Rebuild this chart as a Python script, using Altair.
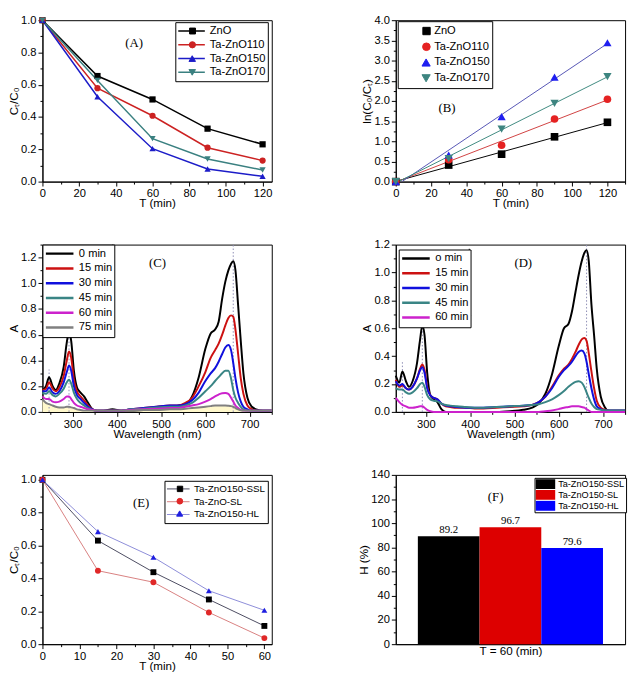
import altair as alt
import pandas as pd

SANS = "Liberation Sans"
SERIF = "Liberation Serif"

# ---------------- (A) ----------------
A_TIME = [0, 30, 60, 90, 120]
A_SERIES = ["ZnO", "Ta-ZnO110", "Ta-ZnO150", "Ta-ZnO170"]
A_ZNO = [1.0, 0.654, 0.509, 0.328, 0.231]
A_110 = [1.0, 0.579, 0.408, 0.210, 0.130]
A_150 = [1.0, 0.526, 0.204, 0.078, 0.033]
A_170 = [1.0, 0.627, 0.266, 0.140, 0.072]
A_COLORS = ["#000000", "#CC2222", "#1C1CC8", "#3A8080"]
A_SHAPES = ["square", "circle", "triangle-up", "triangle-down"]

# ---------------- (B) ----------------
B_TIME = [0, 30, 60, 90, 120]
B_ZNO = [0.0, 0.41, 0.68, 1.11, 1.47]
B_110 = [0.0, 0.54, 0.90, 1.55, 2.04]
B_150 = [0.0, 0.66, 1.61, 2.59, 3.44]
B_170 = [0.0, 0.57, 1.30, 1.94, 2.60]
B_POINT_COLORS = ["#000000", "#E52222", "#1E1EF0", "#3D8580"]
B_LINE_COLORS = ["#000000", "#D04040", "#5555B5", "#3E8A80"]

# ---------------- (C) & (D) spectra ----------------
WL = [232, 240, 247, 255, 262, 270, 280, 287, 292, 297,
      303, 310, 318, 326, 335, 345, 355, 370, 390, 410,
      430, 460, 490, 520, 540, 555, 570, 585, 600, 612,
      622, 630, 638, 645, 652, 658, 663, 668, 674, 680,
      686, 695, 705, 715, 730, 750]
C_SERIES = ["0 min", "15 min", "30 min", "45 min", "60 min", "75 min"]
C_0 = [0.17, 0.20, 0.27, 0.20, 0.17, 0.22, 0.35, 0.54, 0.62, 0.55,
       0.32, 0.19, 0.15, 0.12, 0.07, 0.02, 0.01, 0.01, 0.02, 0.01,
       0.01, 0.015, 0.02, 0.03, 0.05, 0.06, 0.12, 0.27, 0.49, 0.61,
       0.64, 0.70, 0.88, 1.01, 1.10, 1.15, 1.17, 1.10, 0.83, 0.55,
       0.30, 0.11, 0.04, 0.02, 0.01, 0.01]
C_15 = [0.17, 0.18, 0.23, 0.18, 0.16, 0.19, 0.28, 0.40, 0.47, 0.42,
        0.25, 0.16, 0.12, 0.09, 0.05, 0.02, 0.01, 0.01, 0.01, 0.01,
        0.02, 0.03, 0.04, 0.05, 0.05, 0.07, 0.11, 0.20, 0.31, 0.42,
        0.48, 0.53, 0.60, 0.67, 0.73, 0.75, 0.74, 0.64, 0.45, 0.26,
        0.14, 0.05, 0.02, 0.01, 0.01, 0.01]
C_30 = [0.16, 0.16, 0.19, 0.15, 0.14, 0.16, 0.23, 0.31, 0.36, 0.32,
        0.20, 0.13, 0.10, 0.07, 0.04, 0.02, 0.01, 0.01, 0.01, 0.01,
        0.02, 0.03, 0.04, 0.05, 0.05, 0.06, 0.09, 0.15, 0.24, 0.30,
        0.34, 0.39, 0.45, 0.50, 0.52, 0.48, 0.38, 0.26, 0.15, 0.08,
        0.04, 0.02, 0.01, 0.01, 0.01, 0.01]
C_45 = [0.15, 0.14, 0.16, 0.13, 0.12, 0.14, 0.18, 0.23, 0.25, 0.22,
        0.15, 0.10, 0.07, 0.05, 0.03, 0.015, 0.01, 0.01, 0.01, 0.01,
        0.02, 0.025, 0.035, 0.04, 0.04, 0.05, 0.07, 0.11, 0.16, 0.20,
        0.24, 0.27, 0.30, 0.32, 0.32, 0.26, 0.17, 0.11, 0.07, 0.04,
        0.02, 0.01, 0.01, 0.01, 0.01, 0.01]
C_60 = [0.12, 0.10, 0.10, 0.08, 0.075, 0.08, 0.10, 0.12, 0.12, 0.10,
        0.07, 0.05, 0.04, 0.03, 0.02, 0.015, 0.01, 0.01, 0.01, 0.01,
        0.015, 0.02, 0.025, 0.03, 0.03, 0.04, 0.05, 0.06, 0.08, 0.10,
        0.12, 0.135, 0.145, 0.147, 0.14, 0.11, 0.08, 0.05, 0.03, 0.015,
        0.01, 0.01, 0.01, 0.01, 0.01, 0.01]
C_75 = [0.10, 0.07, 0.06, 0.05, 0.04, 0.035, 0.035, 0.04, 0.04, 0.035,
        0.03, 0.02, 0.015, 0.01, 0.01, 0.01, 0.01, 0.01, 0.01, 0.01,
        0.01, 0.015, 0.015, 0.02, 0.02, 0.025, 0.03, 0.035, 0.04, 0.045,
        0.05, 0.05, 0.05, 0.05, 0.048, 0.045, 0.04, 0.03, 0.02, 0.012,
        0.01, 0.01, 0.01, 0.01, 0.01, 0.01]

D_SERIES = ["o min", "15 min", "30 min", "45 min", "60 min"]
D_0 = [0.26, 0.21, 0.29, 0.22, 0.18, 0.22, 0.35, 0.52, 0.62, 0.55,
       0.28, 0.12, 0.09, 0.07, 0.02, 0.0, 0.0, 0.0, 0.0, 0.0,
       0.0, 0.0, 0.005, 0.015, 0.03, 0.06, 0.13, 0.27, 0.47, 0.60,
       0.63, 0.72, 0.86, 0.98, 1.08, 1.14, 1.16, 1.08, 0.77, 0.55,
       0.31, 0.11, 0.03, 0.0, 0.0, 0.0]
D_15 = [0.23, 0.18, 0.19, 0.17, 0.16, 0.18, 0.24, 0.31, 0.34, 0.30,
        0.18, 0.12, 0.10, 0.09, 0.06, 0.04, 0.035, 0.03, 0.03, 0.025,
        0.025, 0.03, 0.035, 0.04, 0.05, 0.07, 0.11, 0.18, 0.26, 0.31,
        0.34, 0.38, 0.43, 0.48, 0.52, 0.53, 0.51, 0.42, 0.29, 0.17,
        0.08, 0.03, 0.015, 0.01, 0.01, 0.01]
D_30 = [0.22, 0.19, 0.20, 0.17, 0.16, 0.18, 0.24, 0.30, 0.32, 0.28,
        0.17, 0.12, 0.10, 0.09, 0.06, 0.045, 0.04, 0.035, 0.03, 0.03,
        0.03, 0.035, 0.04, 0.045, 0.05, 0.07, 0.11, 0.17, 0.25, 0.30,
        0.33, 0.36, 0.40, 0.43, 0.44, 0.42, 0.36, 0.27, 0.17, 0.09,
        0.04, 0.02, 0.01, 0.01, 0.01, 0.01]
D_45 = [0.17, 0.16, 0.16, 0.14, 0.13, 0.14, 0.17, 0.20, 0.21, 0.18,
        0.12, 0.09, 0.08, 0.075, 0.06, 0.05, 0.045, 0.04, 0.035, 0.03,
        0.03, 0.035, 0.04, 0.045, 0.05, 0.055, 0.07, 0.09, 0.12, 0.15,
        0.18, 0.20, 0.215, 0.22, 0.21, 0.18, 0.14, 0.10, 0.06, 0.035,
        0.02, 0.015, 0.01, 0.01, 0.01, 0.01]
D_60 = [0.10, 0.07, 0.05, 0.04, 0.03, 0.03, 0.035, 0.04, 0.04, 0.03,
        0.015, 0.005, 0.0, 0.0, 0.0, 0.0, 0.0, 0.0, 0.0, 0.0,
        0.0, 0.0, 0.0, 0.0, 0.0, 0.0, 0.005, 0.01, 0.02, 0.03,
        0.035, 0.04, 0.04, 0.04, 0.035, 0.03, 0.02, 0.01, 0.0, 0.0,
        0.0, 0.0, 0.0, 0.0, 0.0, 0.0]
SPEC_COLORS = ["#000000", "#CC1111", "#1010DD", "#3A8585", "#CC22CC", "#808080"]
PEAKS = [247, 292, 663]
C_PEAK_TOPS = [0.33, 0.66, 1.3]
D_PEAK_TOPS = [0.36, 0.64, 1.2]

# ---------------- (E) ----------------
E_TIME = [0, 15, 30, 45, 60]
E_SERIES = ["Ta-ZnO150-SSL", "Ta-ZnO-SL", "Ta-ZnO150-HL"]
E_SSL = [1.0, 0.630, 0.438, 0.272, 0.111]
E_SL = [1.0, 0.447, 0.377, 0.193, 0.037]
E_HL = [1.0, 0.685, 0.529, 0.325, 0.206]
E_POINT_COLORS = ["#000000", "#E02828", "#1E1EE0"]
E_LINE_COLORS = ["#4A4A60", "#D88080", "#8C8CD8"]

# ---------------- (F) ----------------
F_CATS = ["Ta-ZnO150-SSL", "Ta-ZnO150-SL", "Ta-ZnO150-HL"]
F_VALS = [89.2, 96.7, 79.6]
F_COLORS = ["#000000", "#DD0000", "#0000FF"]


def long_df(xname, xs, series, arrays):
    rows = []
    for s, arr in zip(series, arrays):
        for x, v in zip(xs, arr):
            rows.append({xname: x, "v": v, "s": s})
    return pd.DataFrame(rows)


def mk_axis(title, values, major, fmt, **kw):
    t = f"abs(datum.value/{major} - round(datum.value/{major})) > 0.001"
    return alt.Axis(title=title, values=values, format=fmt,
                    labelExpr=f"{t} ? '' : datum.label",
                    tickSize={"condition": {"test": t, "value": 2.5}, "value": 4.5},
                    **kw)


def label_layer(xname, xv, yv, text, x, y, dx=0):
    d = pd.DataFrame({xname: [xv], "v": [yv], "t": [text]})
    return alt.Chart(d).mark_text(font=SERIF, fontSize=13, color="black", dx=dx).encode(x=x, y=y, text="t:N")


def marker_overlays(df, xname, x, y, series, colors, shapes, sizes, center_x, top_y, row_h):
    """One label-less, frameless legend per series that puts the series marker
    on top of the corresponding row of the main (line) legend."""
    layers = []
    for j, (s, c, sh, sz) in enumerate(zip(series, colors, shapes, sizes)):
        d = sz ** 0.5
        leg = alt.Legend(title=None, orient="none", legendX=center_x - d / 2,
                         legendY=top_y + j * row_h, symbolType=sh, symbolSize=sz,
                         symbolFillColor=c, symbolStrokeColor=c, symbolStrokeWidth=1,
                         symbolOpacity=1, clipHeight=row_h, padding=0, labelExpr="''",
                         labelOffset=0, strokeColor="transparent", fillColor="transparent",
                         zindex=3)
        layers.append(alt.Chart(df).transform_filter(f"datum.{xname} < -1000").mark_line().encode(
            x=x, y=y, color=alt.Color("s:N", scale=alt.Scale(domain=[s], range=[c]), legend=leg)))
    return layers


H1, H2, H3 = 164, 170, 172

# ----- Panel A -----
dfA = long_df("T", A_TIME, A_SERIES, [A_ZNO, A_110, A_150, A_170])
xA = alt.X("T:Q", scale=alt.Scale(domain=[0, 125], nice=False),
           axis=mk_axis("T (min)", list(range(0, 121, 10)), 20, "d"))
yA = alt.Y("v:Q", scale=alt.Scale(domain=[0, 1], nice=False),
           axis=mk_axis("Cₜ/C₀", [round(i * 0.1, 1) for i in range(11)], 0.2, ".1f"))
A_LX, A_LY, A_PAD, A_ROW, A_SYM = 135, 2, 2, 14, 27
legA = alt.Legend(title=None, orient="none", legendX=A_LX, legendY=A_LY, symbolType="stroke",
                  symbolSize=A_SYM ** 2, clipHeight=A_ROW, symbolStrokeWidth=1.5, labelFontSize=11.3,
                  padding=A_PAD, rowPadding=0, labelOffset=4, zindex=1)
layersA = [alt.Chart(dfA).mark_line(strokeWidth=1.5).encode(
    x=xA, y=yA, color=alt.Color("s:N", scale=alt.Scale(domain=A_SERIES, range=A_COLORS), legend=legA))]
for s, c, sh in zip(A_SERIES, A_COLORS, A_SHAPES):
    layersA.append(alt.Chart(dfA).transform_filter(alt.datum.s == s).mark_point(
        filled=True, shape=sh, size=40, color=c, opacity=1).encode(x=xA, y=yA))
layersA += marker_overlays(dfA, "T", xA, yA, A_SERIES, A_COLORS, A_SHAPES, [36, 40, 44, 44],
                           A_LX + A_PAD + A_SYM / 2, A_LY + A_PAD, A_ROW)
pA = alt.layer(*layersA, label_layer("T", 50, 0.86, "(A)", xA, yA)).resolve_scale(
    color="independent").properties(width=233, height=H1)

# ----- Panel B -----
dfB = long_df("T", B_TIME, A_SERIES, [B_ZNO, B_110, B_150, B_170])
xB = alt.X("T:Q", scale=alt.Scale(domain=[0, 130], nice=False),
           axis=mk_axis("T (min)", list(range(0, 131, 10)), 20, "d"))
yB = alt.Y("v:Q", scale=alt.Scale(domain=[0, 4], nice=False),
           axis=mk_axis("ln(C₀/Cₜ)", [i * 0.25 for i in range(17)], 0.5, ".1f"))
B_LX, B_LY, B_PAD, B_ROW = 2, 1, 2, 16
legB = alt.Legend(title=None, orient="none", legendX=B_LX, legendY=B_LY, symbolType="stroke",
                  symbolSize=900, symbolOpacity=0, clipHeight=B_ROW, labelFontSize=11.3,
                  padding=B_PAD, rowPadding=0, labelOffset=3, zindex=1)
fitB = alt.Chart(dfB).transform_regression("T", "v", groupby=["s"], extent=[0, 120]).mark_line(
    strokeWidth=1, clip=True).encode(
    x=xB, y=yB, stroke=alt.Stroke("s:N", scale=alt.Scale(domain=A_SERIES, range=B_LINE_COLORS), legend=legB))
layersB = [fitB]
for s, c, sh in zip(A_SERIES, B_POINT_COLORS, A_SHAPES):
    layersB.append(alt.Chart(dfB).transform_filter(alt.datum.s == s).mark_point(
        filled=True, shape=sh, size=60 if sh in ("square", "circle") else 70, color=c, opacity=1).encode(x=xB, y=yB))
layersB += marker_overlays(dfB, "T", xB, yB, A_SERIES, B_POINT_COLORS, A_SHAPES, [56, 60, 70, 70],
                           B_LX + 28, B_LY + B_PAD, B_ROW)
pB = alt.layer(*layersB, label_layer("T", 29, 1.83, "(B)", xB, yB)).resolve_scale(
    color="independent").properties(width=233, height=H1)


# ----- Panels C and D -----
def spectra_panel(series, arrays, colors, tops, ymax, yvals, leg, arrow_w, arrow_lo, arrow_hi, lab, fill75):
    df = long_df("w", WL, series, arrays)
    x = alt.X("w:Q", scale=alt.Scale(domain=[232, 750], nice=False, zero=False),
              axis=mk_axis("Wavelength (nm)", list(range(250, 751, 50)), 100, "d"))
    y = alt.Y("v:Q", scale=alt.Scale(domain=[0, ymax], nice=False),
              axis=mk_axis("A", yvals, 0.2, ".1f"))
    layers = []
    if fill75:
        layers.append(alt.Chart(df).transform_filter(alt.datum.s == series[-1]).mark_area(
            color="#FFF8CC", opacity=1, interpolate="monotone").encode(x=x, y=y))
    rules = pd.DataFrame({"w": PEAKS, "v": [0, 0, 0], "v2": tops})
    layers.append(alt.Chart(rules).mark_rule(strokeDash=[1.5, 2], color="#8C8CB4", strokeWidth=1).encode(
        x=x, y=y, y2="v2:Q"))
    layers.append(alt.Chart(df).mark_line(strokeWidth=2, interpolate="monotone").encode(
        x=x, y=y, color=alt.Color("s:N", scale=alt.Scale(domain=series, range=colors), legend=leg)))
    arr = pd.DataFrame({"w": [arrow_w], "v": [arrow_lo + 0.03], "v2": [arrow_hi]})
    layers.append(alt.Chart(arr).mark_rule(color="black", strokeWidth=1).encode(x=x, y=y, y2="v2:Q"))
    head = pd.DataFrame({"w": [arrow_w], "v": [arrow_lo]})
    layers.append(alt.Chart(head).mark_point(shape="triangle-down", filled=True, size=16,
                                             color="black", opacity=1).encode(x=x, y=y))
    layers.append(label_layer("w", lab[0], lab[1], lab[2], x, y))
    return layers


legC = alt.Legend(title=None, orient="none", legendX=0, legendY=0, symbolType="stroke",
                  symbolSize=784, symbolStrokeWidth=2.5, clipHeight=14.4, labelFontSize=11.3,
                  padding=2, rowPadding=0, labelOffset=4)
pC = alt.layer(*spectra_panel(C_SERIES, [C_0, C_15, C_30, C_45, C_60, C_75], SPEC_COLORS,
                              C_PEAK_TOPS, 1.3, [round(i * 0.1, 1) for i in range(14)], legC,
                              391, 0.66, 1.3, (492, 1.16, "(C)"), True)).properties(width=233, height=H2)
legD = alt.Legend(title=None, orient="none", legendX=3, legendY=5, symbolType="stroke",
                  symbolSize=784, symbolStrokeWidth=2.5, clipHeight=14.1, labelFontSize=11.3,
                  padding=2, rowPadding=0, labelOffset=4)
pD = alt.layer(*spectra_panel(D_SERIES, [D_0, D_15, D_30, D_45, D_60], SPEC_COLORS[:5],
                              D_PEAK_TOPS, 1.2, [round(i * 0.1, 1) for i in range(13)], legD,
                              398, 0.68, 1.17, (520, 1.07, "(D)"), False)).properties(width=233, height=H2)

# ----- Panel E -----
dfE = long_df("T", E_TIME, E_SERIES, [E_SSL, E_SL, E_HL])
xE = alt.X("T:Q", scale=alt.Scale(domain=[0, 62], nice=False),
           axis=mk_axis("T (min)", list(range(0, 61, 5)), 10, "d"))
yE = alt.Y("v:Q", scale=alt.Scale(domain=[0, 1.03], nice=False),
           axis=mk_axis("Cₜ/C₀", [round(i * 0.1, 1) for i in range(11)], 0.2, ".1f"))
E_LX, E_LY, E_PAD, E_ROW, E_SYM = 124, 6, 2, 12.5, 23
legE = alt.Legend(title=None, orient="none", legendX=E_LX, legendY=E_LY, symbolType="stroke",
                  symbolSize=E_SYM ** 2, clipHeight=E_ROW, symbolStrokeWidth=1, labelFontSize=10,
                  padding=E_PAD, rowPadding=0, labelOffset=4, zindex=1)
layersE = [alt.Chart(dfE).mark_line(strokeWidth=1).encode(
    x=xE, y=yE, color=alt.Color("s:N", scale=alt.Scale(domain=E_SERIES, range=E_LINE_COLORS), legend=legE))]
for s, c, sh in zip(E_SERIES, E_POINT_COLORS, A_SHAPES[:3]):
    layersE.append(alt.Chart(dfE).transform_filter(alt.datum.s == s).mark_point(
        filled=True, shape=sh, size=36, color=c, opacity=1).encode(x=xE, y=yE))
layersE += marker_overlays(dfE, "T", xE, yE, E_SERIES, E_POINT_COLORS, A_SHAPES[:3], [30, 34, 38],
                           E_LX + E_PAD + E_SYM / 2, E_LY + E_PAD, E_ROW)
pE = alt.layer(*layersE, label_layer("T", 26.7, 0.86, "(E)", xE, yE)).resolve_scale(
    color="independent").properties(width=233, height=H3)

# ----- Panel F -----
dfF = pd.DataFrame({"c": F_CATS, "v": F_VALS, "lab": [f"{v:.1f}" for v in F_VALS]})
xF = alt.X("c:N", sort=F_CATS, scale=alt.Scale(paddingInner=0, paddingOuter=0.358),
           axis=alt.Axis(title="T = 60 (min)", labels=False, ticks=False, titlePadding=1))
yF = alt.Y("v:Q", scale=alt.Scale(domain=[0, 140], nice=False),
           axis=mk_axis("H (%)", list(range(0, 141, 10)), 20, "d"))
legF = alt.Legend(title=None, orient="none", legendX=141, legendY=3,
                  symbolType="M-1,-0.5H1V0.5H-1Z", symbolSize=400, clipHeight=10.7,
                  symbolStrokeWidth=0, labelFontSize=9.3, padding=1, rowPadding=0, labelOffset=3)
barsF = alt.Chart(dfF).mark_bar().encode(
    x=xF, y=yF, color=alt.Color("c:N", scale=alt.Scale(domain=F_CATS, range=F_COLORS), legend=legF))
textF = alt.Chart(dfF).mark_text(font=SERIF, fontSize=11, baseline="bottom", dy=-1, color="black").encode(
    x=xF, y=yF, text="lab:N")
labF = alt.Chart(pd.DataFrame({"c": ["Ta-ZnO150-SL"], "v": [122], "t": ["(F)"]})).mark_text(
    font=SERIF, fontSize=13, color="black", dx=-15).encode(x=xF, y=yF, text="t:N")
pF = alt.layer(barsF, textF, labF).properties(width=233, height=H3)

chart = alt.concat(pA, pB, pC, pD, pE, pF, columns=2, bounds="flush",
                   spacing={"row": 64, "column": 126}).resolve_scale(
    color="independent", fill="independent", stroke="independent", shape="independent"
).configure_view(stroke="black", strokeWidth=1).configure_axis(
    domainColor="black", domainWidth=1, tickColor="black", tickWidth=1,
    labelColor="black", titleColor="black", labelFont=SANS, titleFont=SANS,
    labelFontSize=11.3, titleFontSize=11.8, titleFontWeight="normal",
    labelPadding=2, titlePadding=1, grid=False, labelFlush=False, labelOverlap=False
).configure_axisX(titlePadding=-1).configure_legend(
    labelFont=SANS, labelColor="black", strokeColor="black", fillColor="white", strokeWidth=1
).properties(padding=0)

chart.save("out.html", embed_options={"renderer": "svg", "actions": False})
